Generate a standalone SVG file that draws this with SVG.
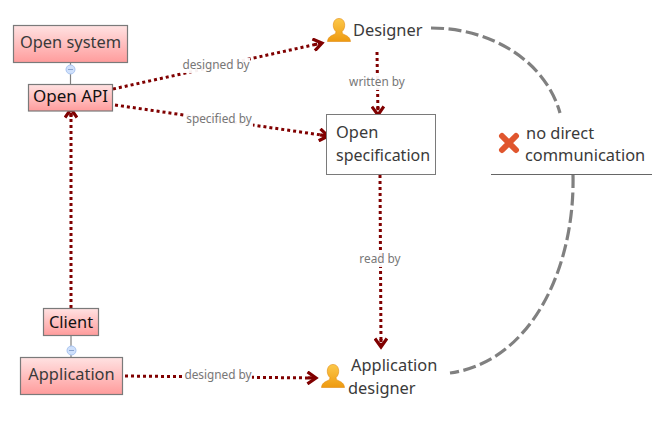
<svg xmlns="http://www.w3.org/2000/svg" width="668" height="424" viewBox="0 0 668 424">
<style>
text{font-family:"Noto Sans","Open Sans","Liberation Sans",sans-serif;fill:#3a3a3a;font-size:16.400px}
.box{stroke:#7a7a7a;stroke-width:1.200;fill:url(#red)}
.dot{fill:none;stroke:#800000;stroke-width:3;stroke-dasharray:3 3;marker-end:url(#arr)}
.dash{fill:none;stroke:#808080;stroke-width:3.200;stroke-dasharray:13 4.500}
.lab{font-size:11.800px;fill:#777;text-anchor:middle}
.veil{fill:#fff;fill-opacity:.94}
.link{stroke:#808080;stroke-width:1.200}
.fold{fill:#cfe0fb;stroke:#a9c4f0;stroke-width:1}
.foldm{stroke:#8aa4d0;stroke-width:1}
.mid{text-anchor:middle}
.dark{fill:#111}
</style>
<defs>
<linearGradient id="red" x1="0" y1="0" x2="0" y2="1"><stop offset="0" stop-color="#ffe2e2"/><stop offset="1" stop-color="#ff9c9c"/></linearGradient>
<linearGradient id="gold" x1="0" y1="0" x2="0" y2="1"><stop offset="0" stop-color="#fcc84a"/><stop offset="1" stop-color="#ee9a10"/></linearGradient>
<marker id="arr" viewBox="0 0 14 14" refX="11" refY="7" markerWidth="14" markerHeight="14" markerUnits="userSpaceOnUse" orient="auto">
<path d="M2.500 1 L11 7 L2.500 13" fill="none" stroke="#800000" stroke-width="3.200"/>
<rect x="3" y="5.400" width="3.200" height="3.200" fill="#800000"/>
</marker>
<g id="person"><path d="M11.500 0c-3.800 0-5.700 3-5.700 6.800 0 2.600 1 4.700 2.600 6.200 0 1.600-.5 2.400-2.600 3.300C3.200 17.500 .5 18.700 0 23h23c-.5-4.300-3.200-5.500-5.800-6.700-2.100-.9-2.600-1.700-2.600-3.300 1.600-1.500 2.600-3.600 2.600-6.200C17.200 3 15.300 0 11.500 0z" fill="url(#gold)" stroke="#e08a10" stroke-width=".6"/></g>
</defs>
<rect width="668" height="424" fill="#fff"/>
<g id="connectors">
<path class="dot" d="M113 89 L322 43"/>
<path class="dot" d="M115 105 L328 136"/>
<path class="dot" d="M377 52 L378 115"/>
<path class="dot" d="M380 175 L381 347"/>
<path class="dot" d="M125 376 L316 378"/>
<path class="dot" d="M71 308 L71 109"/>
<path class="dash" d="M431 28 C490 28 545 60 560 113"/>
<path class="dash" d="M573 175 C575 270 530 362 450 373"/>
<rect class="veil" x="182" y="58" width="68" height="15"/>
<text class="lab" x="216" y="69">designed by</text>
<rect class="veil" x="186" y="112" width="67" height="15"/>
<text class="lab" x="219" y="123">specified by</text>
<rect class="veil" x="349" y="75" width="56" height="15"/>
<text class="lab" x="377" y="86">written by</text>
<rect class="veil" x="359" y="252" width="42" height="15"/>
<text class="lab" x="380" y="263">read by</text>
<rect class="veil" x="184" y="368" width="68" height="15"/>
<text class="lab" x="218" y="379">designed by</text>
</g>
<g id="open-system">
<line class="link" x1="70.500" y1="62" x2="70.500" y2="85"/>
<rect class="box" x="13.500" y="25.500" width="114" height="37"/>
<text class="mid" x="70.500" y="48">Open system</text>
<circle class="fold" cx="70.500" cy="69.500" r="4.500"/>
<line class="foldm" x1="68" y1="69.500" x2="73" y2="69.500"/>
</g>
<g id="open-api">
<rect class="box" x="28.500" y="84.500" width="84" height="26.500"/>
<text class="mid dark" x="70.500" y="102" style="font-size:17px">Open API</text>
</g>
<g id="client">
<line class="link" x1="71" y1="335" x2="71" y2="358"/>
<rect class="box" x="43.500" y="308.500" width="55" height="27"/>
<text class="mid dark" x="71" y="328">Client</text>
<circle class="fold" cx="71.500" cy="350.500" r="4.500"/>
<line class="foldm" x1="69" y1="350.500" x2="74" y2="350.500"/>
</g>
<g id="application">
<rect class="box" x="20.500" y="357.500" width="102" height="37"/>
<text class="mid" x="71.500" y="380">Application</text>
</g>
<g id="designer">
<use href="#person" x="327.500" y="18.500"/>
<text x="353" y="36">Designer</text>
</g>
<g id="open-specification">
<rect x="326.500" y="114.500" width="109" height="60" fill="#fff" stroke="#7a7a7a" stroke-width="1"/>
<text x="336" y="138">Open</text>
<text x="336" y="161" style="font-size:16px">specification</text>
</g>
<g id="application-designer">
<use href="#person" x="321.500" y="364.500"/>
<text x="351" y="371">Application</text>
<text x="348" y="394">designer</text>
</g>
<g id="no-direct-communication">
<path d="M502 136 L516 150 M516 136 L502 150" stroke="#e0562e" stroke-width="6" stroke-linecap="round" fill="none"/>
<text x="526" y="139">no direct</text>
<text x="525" y="161">communication</text>
<line x1="491" y1="174.500" x2="652" y2="174.500" stroke="#666" stroke-width="1"/>
</g>
</svg>
